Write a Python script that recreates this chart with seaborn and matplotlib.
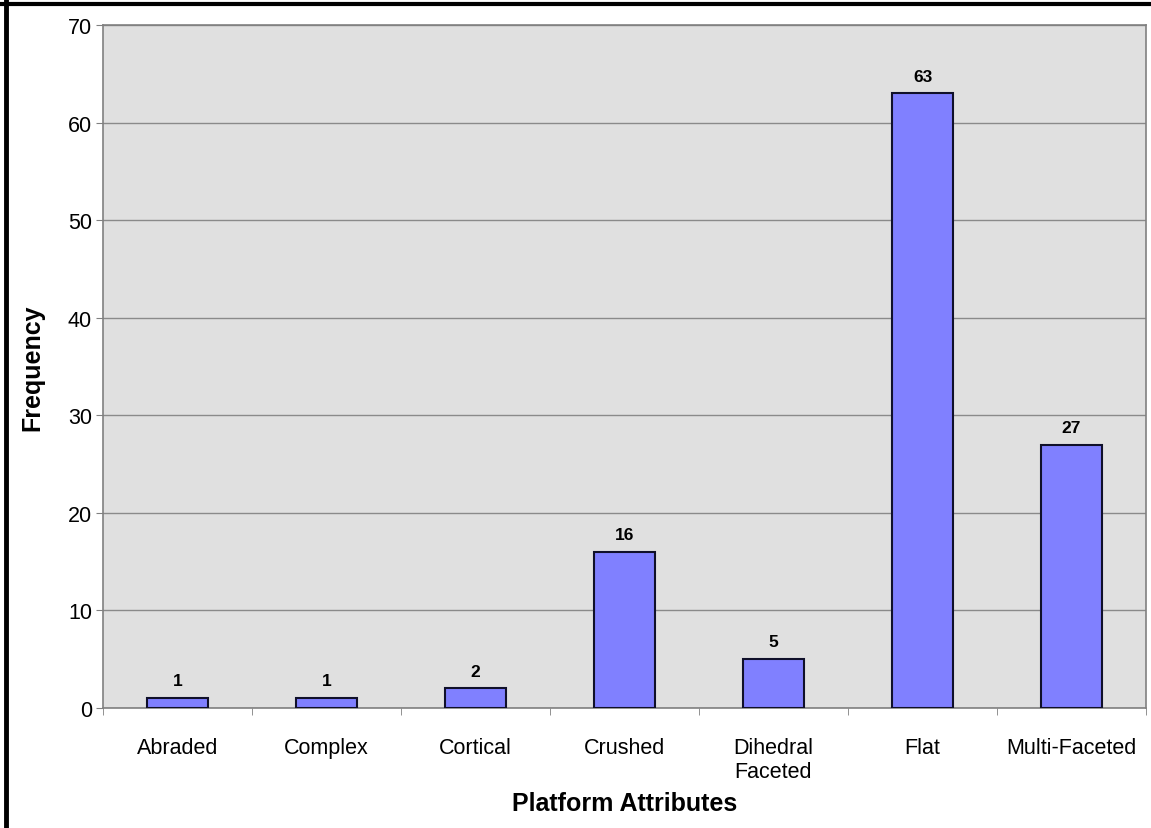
import seaborn as sns
import pandas as pd
import numpy as np
import matplotlib.pyplot as plt
from matplotlib.lines import Line2D

attributes = ['Abraded', 'Complex', 'Cortical', 'Crushed', 'Dihedral\nFaceted', 'Flat', 'Multi-Faceted']
frequency = [1, 1, 2, 16, 5, 63, 27]

df = pd.DataFrame({'Attribute': attributes, 'Frequency': frequency})

plt.rcParams['font.family'] = ['Liberation Sans', 'DejaVu Sans']

fig = plt.figure(figsize=(11.51, 8.29), dpi=100)
ax = fig.add_axes([103 / 1151, 1 - 709 / 829, 1043 / 1151, 683 / 829])
ax.set_facecolor('#E0E0E0')

sns.barplot(data=df, x='Attribute', y='Frequency', color='#8080FF', saturation=1,
            edgecolor='#10102a', linewidth=1.5, width=0.41, ax=ax, zorder=3)

for i, v in enumerate(frequency):
    ax.text(i, v + 1.0, str(v), ha='center', va='bottom', fontsize=12.5, fontweight='bold')

ax.set_xlim(-0.5, len(attributes) - 0.5)
ax.set_ylim(0, 70)
ax.set_yticks(range(0, 71, 10))
ax.yaxis.grid(True, color='#8a8a8a', linewidth=1, zorder=0)
ax.set_axisbelow(True)

# tick marks between categories, labels at centres
ax.set_xticks(np.arange(len(attributes)))
ax.set_xticks(np.arange(len(attributes) + 1) - 0.5, minor=True)
ax.tick_params(axis='x', which='major', length=0, pad=21, labelsize=15.5)
ax.tick_params(axis='x', which='minor', length=5, color='#808080', direction='out')
ax.tick_params(axis='y', length=5, color='#808080', labelsize=15.5, pad=3)

for s in ax.spines.values():
    s.set_color('#808080')
    s.set_linewidth(1.2)

ax.set_xlabel('Platform Attributes', fontsize=18, fontweight='bold')
ax.set_ylabel('Frequency', fontsize=18, fontweight='bold')
ax.xaxis.set_label_coords(0.5, -0.122)
ax.yaxis.set_label_coords(-0.0566, 0.5)

# black frame lines at top and left of the picture
fig.add_artist(Line2D([0, 1], [1 - 5 / 829] * 2, transform=fig.transFigure, color='black', linewidth=3))
fig.add_artist(Line2D([5.5 / 1151] * 2, [0, 1], transform=fig.transFigure, color='black', linewidth=3.5))

fig.savefig('out.png', dpi=100)
